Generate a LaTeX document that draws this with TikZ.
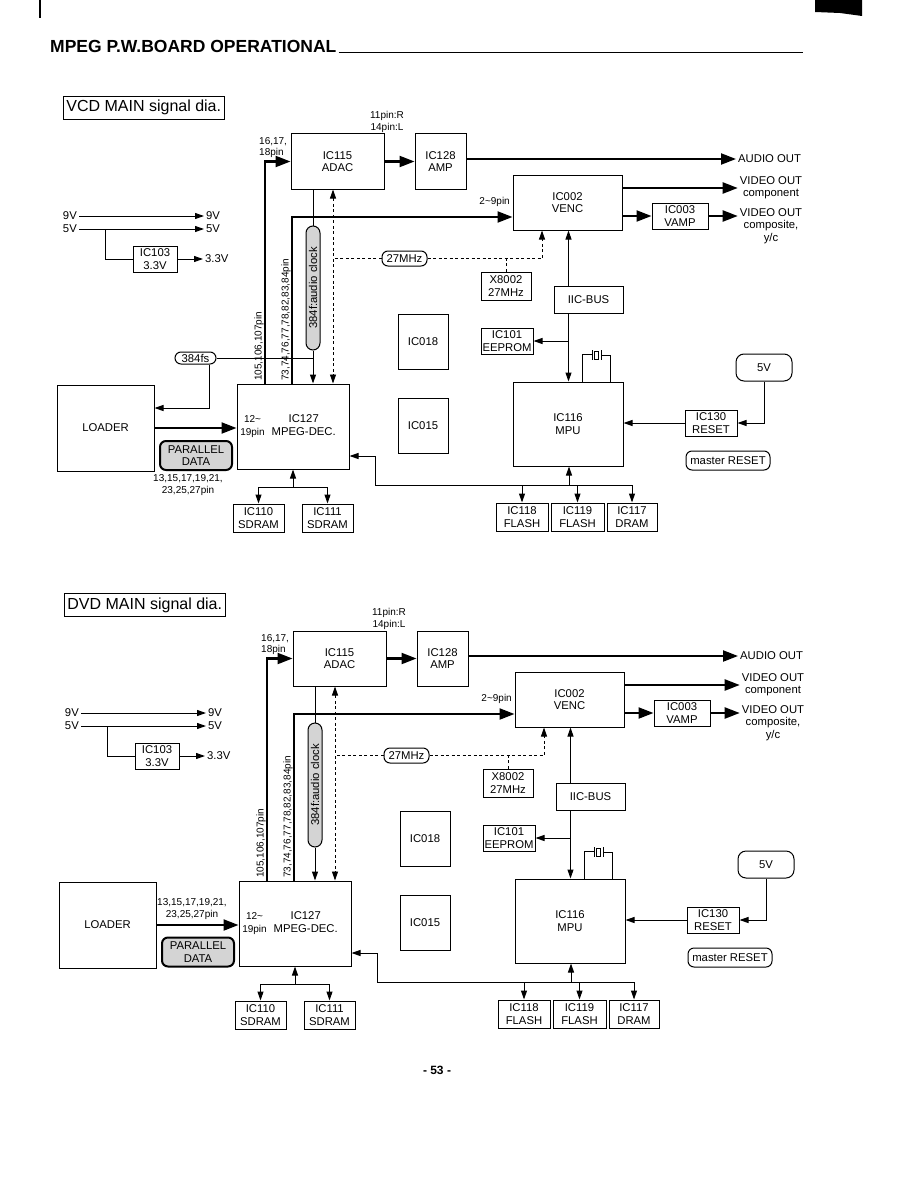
\documentclass[tikz,border=0pt]{standalone}
\usepackage{fontspec}
\setmainfont{Liberation Sans}
\usetikzlibrary{arrows.meta, positioning}
\newcommand{\lblfont}{\fontsize{11.3}{12.3}\selectfont}
\newcommand{\pinfont}{\fontsize{10}{11.5}\selectfont}
\tikzset{
  icbox/.style={draw, line width=1pt, align=center, font=\lblfont, inner sep=1pt},
  pill/.style={draw, line width=1pt, rounded corners=6pt, align=center, font=\lblfont, inner sep=1pt},
  graypill/.style={pill, fill=black!17},
  txt/.style={font=\lblfont, align=center, inner sep=2pt},
  pintxt/.style={font=\pinfont, align=center, inner sep=1pt},
  wire/.style={line width=1pt},
  sigline/.style={line width=1pt, -{Triangle[length=9pt, width=6pt]}},
  busline/.style={line width=2.2pt, -{Triangle[length=15pt, width=11pt]}},
  clkline/.style={line width=0.9pt, dash pattern=on 3pt off 2.5pt}
}
% one signal diagram, VCD and DVD share it
\newcommand{\maindia}{%
  % power rails
  \node[txt, anchor=east] (v9in) at (79,216) {9V};
  \node[txt, anchor=west] (v9out) at (204,216) {9V};
  \node[txt, anchor=east] (v5in) at (79,229) {5V};
  \node[txt, anchor=west] (v5out) at (204,229) {5V};
  \node[icbox, minimum width=44pt, minimum height=26pt] (ic103) at (155,259) {IC103\\3.3V};
  \node[txt, anchor=west] (v33out) at (203,259) {3.3V};
  \draw[sigline] (v9in) -- (v9out);
  \draw[sigline] (v5in) -- (v5out);
  \draw[wire] ([xshift=26pt]v5in.east) |- (ic103.west);
  \draw[sigline] (ic103) -- (v33out);
  % blocks
  \node[icbox, minimum width=93pt, minimum height=55pt] (adac) at (337.5,161.5) {IC115\\ADAC};
  \node[icbox, minimum width=51pt, minimum height=55pt] (amp) at (440.5,161.5) {IC128\\AMP};
  \node[icbox, minimum width=109pt, minimum height=55pt] (venc) at (567.5,202.5) {IC002\\VENC};
  \node[icbox, minimum width=56pt, minimum height=26pt] (vamp) at (680,216) {IC003\\VAMP};
  \node[icbox, minimum width=50pt, minimum height=28pt] (xtal) at (506,286) {X8002\\27MHz};
  \node[icbox, minimum width=69pt, minimum height=27pt] (iic) at (588.5,299.5) {IIC-BUS};
  \node[icbox, minimum width=52pt, minimum height=26pt] (eeprom) at (507,341) {IC101\\EEPROM};
  \node[icbox, minimum width=50pt, minimum height=55pt] (ic018) at (423,341.5) {IC018};
  \node[icbox, minimum width=50pt, minimum height=55pt] (ic015) at (423,425.5) {IC015};
  \node[icbox, minimum width=110pt, minimum height=84pt] (mpu) at (568,424) {IC116\\MPU};
  \node[pill, rounded corners=8pt, minimum width=56pt, minimum height=27pt] (fivev) at (764,367.5) {5V};
  \node[icbox, minimum width=52pt, minimum height=26pt] (reset) at (711,423) {IC130\\RESET};
  \node[pill, minimum width=84pt, minimum height=19pt] (master) at (728,460.5) {master RESET};
  \node[icbox, minimum width=52pt, minimum height=28pt] (ic118) at (522,517) {IC118\\FLASH};
  \node[icbox, minimum width=53pt, minimum height=28pt] (ic119) at (577.5,517) {IC119\\FLASH};
  \node[icbox, minimum width=50pt, minimum height=28pt] (ic117) at (632,517) {IC117\\DRAM};
  \node[icbox, minimum width=112pt, minimum height=85pt] (mpeg) at (293,426.5)
    {\begin{tabular}{@{}c@{\hspace{7pt}}c@{\hspace{10pt}}}\pinfont 12\textasciitilde & IC127\\ \pinfont 19pin & MPEG-DEC.\end{tabular}};
  \node[icbox, minimum width=51pt, minimum height=28pt] (ic110) at (258.5,518) {IC110\\SDRAM};
  \node[icbox, minimum width=51pt, minimum height=28pt] (ic111) at (327.5,518) {IC111\\SDRAM};
  \node[icbox, minimum width=97pt, minimum height=86pt] (loader) at (105.5,428) {LOADER};
  \node[graypill, rotate=90, minimum width=124pt, minimum height=14pt, inner sep=0.5pt, rounded corners=7pt] (clk) at (313,288) {384f:audio clock};
  \node[pill, minimum width=45pt, minimum height=15pt, inner sep=0.5pt] (mhz) at (404.5,258.5) {27MHz};
  % outputs
  \node[txt, anchor=west] (audio) at (736,159) {AUDIO OUT};
  \node[txt] (vcomp) at (771,188) {VIDEO OUT\\component};
  \node[txt] (vcompo) at (771,226) {VIDEO OUT\\composite,\\y/c};
  % pin labels
  \node[pintxt] (pinlr) at (387,122) {11pin:R\\14pin:L};
  \node[pintxt, anchor=west, align=left] (pinadac) at (258,147.5) {16,17,\\18pin};
  \node[pintxt, anchor=east] (pinvenc) at (511,202) {2\textasciitilde 9pin};
  \node[pintxt, rotate=90, anchor=west] (pinb) at (259,382) {105,106,107pin};
  \node[pintxt, rotate=90, anchor=west] (pinc) at (286,382) {73,74,76,77,78,82,83,84pin};
  % audio / video paths
  \draw[busline] ([xshift=-28pt]mpeg.north) |- (adac.west);
  \draw[busline] ([xshift=-1pt]mpeg.north) |- ([yshift=-14.5pt]venc.west);
  \draw[busline] (adac) -- (amp);
  \draw[busline] (amp.east |- audio.west) -- (audio.west);
  \draw[busline] (venc.east |- vcomp.west) -- (vcomp.west);
  \draw[busline] (venc.east |- vamp.west) -- (vamp.west);
  \draw[busline] (vamp.east) -- (vamp.east -| vcompo.west);
  \draw[busline] (loader) -- (loader -| mpeg.west);
  % audio clock
  \draw[wire] (adac.south -| clk.east) -- (clk.east);
  \draw[sigline] (clk.west) -- (clk.west |- mpeg.north);
  % 27MHz clock
  \coordinate (clkx) at ([xshift=-4.5pt]adac.south);
  \draw[clkline, {Triangle[length=9pt, width=6pt]}-{Triangle[length=9pt, width=6pt]}] (clkx) -- (clkx |- mpeg.north);
  \draw[clkline] (mhz.west) -- (mhz.west -| clkx);
  \draw[clkline, -{Triangle[length=9pt, width=6pt]}] (mhz.east) -| ([xshift=-25.5pt]venc.south);
  \draw[clkline] (xtal.north) -- (xtal.north |- mhz.east);
  % IIC bus
  \coordinate (busx) at ([xshift=0.5pt]mpu.north);
  \draw[sigline] (iic.north -| busx) -- (venc.south -| busx);
  \draw[sigline] (iic.south -| busx) -- (busx);
  \draw[sigline] (eeprom.east -| busx) -- (eeprom.east);
  % MPU crystal
  \coordinate (xa) at ([xshift=14pt]mpu.north);
  \coordinate (xb) at ([xshift=42pt]mpu.north);
  \draw[wire] (xa) -- ++(0,-27) -- ++(10,0);
  \draw[wire] (592,350) -- (592,360);
  \draw[wire] (594.5,351) rectangle (598.5,359);
  \draw[wire] (601,350) -- (601,360);
  \draw[wire] (601,355) -| (xb);
  % reset
  \draw[sigline] (fivev.south) |- (reset.east);
  \draw[sigline] (reset.west) -- (reset.west -| mpu.east);
  % MPU memory bus
  \coordinate (mbus) at (569,485);
  \coordinate (mret) at (375,456);
  \draw[sigline] (mbus) -- (mbus |- mpu.south);
  \draw[wire] (mbus -| mret) -- (mbus -| ic117.north);
  \draw[sigline] (mbus -| ic118.north) -- (ic118.north);
  \draw[sigline] (mbus -| ic119.north) -- (ic119.north);
  \draw[sigline] (mbus -| ic117.north) -- (ic117.north);
  \draw[sigline] (mbus -| mret) -- (mret) -- (mret -| mpeg.east);
  % MPEG memory
  \coordinate (dbus) at (293,487);
  \draw[sigline] (dbus) -- (mpeg.south);
  \draw[wire] (dbus -| ic110.north) -- (dbus -| ic111.north);
  \draw[sigline] (dbus -| ic110.north) -- (ic110.north);
  \draw[sigline] (dbus -| ic111.north) -- (ic111.north);
}

\begin{document}
\begin{tikzpicture}[x=1pt, y=-1pt]
  \useasboundingbox (0,0) rectangle (918,1188);
  % page header
  \draw[line width=1.2pt] (40,0) -- (40,18);
  \fill (815,0) -- (862,0) -- (862,16) -- (840,13) -- (815,12) -- cycle;
  \node[anchor=base west, inner sep=0pt, font=\bfseries\fontsize{17.5}{19}\selectfont] (head) at (50,53) {MPEG P.W.BOARD OPERATIONAL};
  \coordinate (rulend) at (803,52);
  \draw[line width=1pt] ([xshift=2pt]head.base east) -- (head.base east -| rulend);

  % VCD
  \begin{scope}[name prefix=vcd-]
    \maindia
    \node[draw, line width=0.8pt, font=\fontsize{16}{17}\selectfont, inner xsep=3pt, minimum height=23pt, anchor=west] (title) at (63,107.5) {VCD MAIN signal dia.};
    \node[pill, minimum width=41pt, minimum height=12pt, inner sep=0pt] (fs) at (195.5,358) {384fs};
    \draw[wire] (fs.east) -- (fs.east -| clk.west);
    \draw[sigline] ([xshift=13.5pt]fs.south) |- ([yshift=20pt]loader.east);
    \node[graypill, line width=2pt, minimum width=72pt, minimum height=29pt] (par) at (196,455.5) {PARALLEL\\DATA};
    \node[pintxt] (pinpar) at (188,485) {13,15,17,19,21,\\23,25,27pin};
  \end{scope}

  % DVD
  \begin{scope}[shift={(2,497)}, name prefix=dvd-]
    \maindia
    \node[draw, line width=0.8pt, font=\fontsize{16}{17}\selectfont, inner xsep=3pt, minimum height=23pt, anchor=west] (title) at (62,108) {DVD MAIN signal dia.};
    \node[graypill, line width=2pt, minimum width=72pt, minimum height=29pt] (par) at (196,455) {PARALLEL\\DATA};
    \node[pintxt] (pinpar) at (190,412) {13,15,17,19,21,\\23,25,27pin};
  \end{scope}

  \node[font=\bfseries\fontsize{12}{14}\selectfont] (pagenum) at (437,1070) {- 53 -};
\end{tikzpicture}
\end{document}
